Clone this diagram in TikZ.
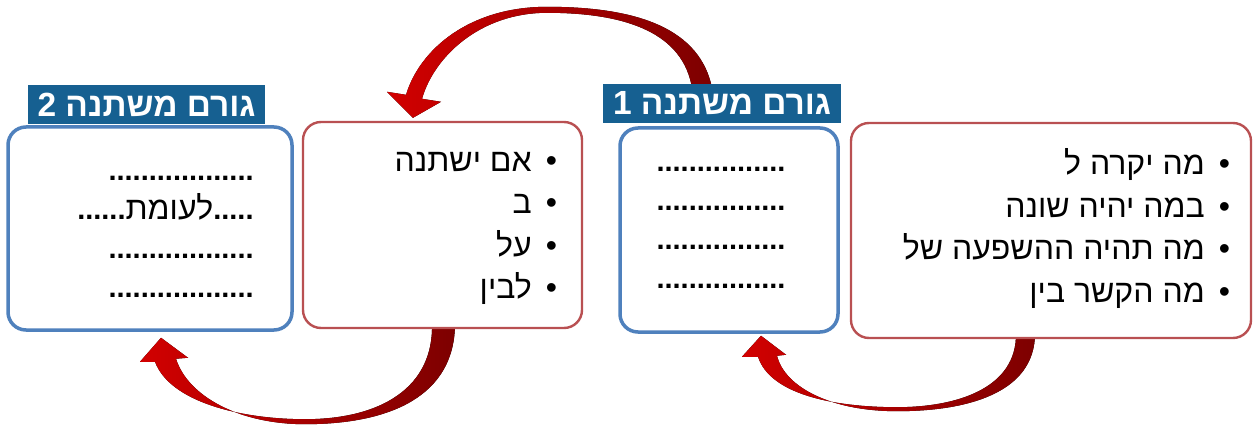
\documentclass[tikz,border=0pt]{standalone}
\usepackage{fontspec}
\setmainfont{Liberation Sans}
\newfontfamily\heb[Script=Hebrew]{Liberation Sans}
\TeXXeTstate=1
\usetikzlibrary{calc,backgrounds}
\definecolor{hdrblue}{RGB}{22,96,145}
\definecolor{boxblue}{RGB}{79,129,189}
\definecolor{boxred}{RGB}{185,80,82}
\definecolor{arrred}{RGB}{210,0,0}
\definecolor{arrdark}{RGB}{125,0,0}
\newcommand{\wrd}[1]{{\fontsize{32}{40}\selectfont\mdseries #1}}
\begin{document}
\begin{tikzpicture}[x=1pt,y=-1pt,
  bluebox/.style={draw=boxblue,line width=3.5pt,rounded corners=18pt,fill=white,inner sep=0pt},
  redbox/.style={draw=boxred,line width=2.4pt,rounded corners=18pt,fill=white,inner sep=0pt},
  header/.style={fill=hdrblue,text=white,font=\heb\bfseries\fontsize{33.5}{36}\selectfont,inner sep=0pt},
  bodytext/.style={font=\heb\fontsize{32}{42.5}\selectfont,align=right,inner sep=0pt},
  dottext/.style={font=\heb\bfseries\fontsize{29}{39}\selectfont,inner sep=0pt},
  arrowshape/.style={left color=arrred,right color=arrdark,draw=none}
]
\useasboundingbox (0,0) rectangle (1254,425);

% boxes
\node[bluebox,minimum width=284pt,minimum height=203pt] (box2) at (150,228.5) {};
\node[header,minimum width=237pt,minimum height=39pt] (h2) at (146.5,104.5) {\beginR גורם משתנה 2\endR};
\node[redbox,minimum width=279pt,minimum height=206pt] (mid) at (442.5,225) {};
\node[bluebox,minimum width=218pt,minimum height=204pt] (box1) at (729,230) {};
\node[header,minimum width=238pt,minimum height=39pt] (h1) at (722,103.5) {\beginR גורם משתנה 1\endR};
\node[redbox,minimum width=400pt,minimum height=215pt] (rbox) at (1051,230.5) {};

% texts
\node[bodytext,anchor=east] (midtxt) at ($(mid.east)+(-26,3.5)$)
  {\beginR •\hspace{14pt}אם ישתנה\endR\\
   \beginR •\hspace{14pt}ב\endR\\
   \beginR •\hspace{14pt}על\endR\\
   \beginR •\hspace{14pt}לבין\endR};
\node[bodytext,anchor=east] (rtxt) at ($(rbox.east)+(-22,-2)$)
  {\beginR •\hspace{14pt}מה יקרה ל\endR\\
   \beginR •\hspace{14pt}במה יהיה שונה\endR\\
   \beginR •\hspace{14pt}מה תהיה ההשפעה של\endR\\
   \beginR •\hspace{14pt}מה הקשר בין\endR};
\node[dottext,align=center] (b1txt) at ($(box1.center)+(-8,-2)$)
  {................\\................\\................\\................};
\node[dottext,align=right,anchor=east] (b2txt) at ($(box2.east)+(-40,8)$)
  {..................\\
   \beginR .....\wrd{לעומת}......\endR\\
   ..................\\
   ..................};

% arrow key points
\coordinate (To)  at ($(h1.north)+(-10,4)$);
\coordinate (Ti)  at ($(h1.north)+(-30,4)$);
\coordinate (Tpo) at ($(mid.north)+(104.5,-114)$);
\coordinate (Tpi) at ($(mid.north)+(104.5,-108)$);
\coordinate (Tso) at ($(mid.north)+(-36.5,-26)$);
\coordinate (Tsi) at ($(mid.north)+(-20.5,-22)$);
\coordinate (Tw1) at ($(mid.north)+(-55.5,-29)$);
\coordinate (Tw2) at ($(mid.north)+(-1.5,-19)$);
\coordinate (Ttip) at ($(mid.north)+(-29.5,-3)$);

\coordinate (Lo)  at ($(mid.south)+(12.5,-6)$);
\coordinate (Li)  at ($(mid.south)+(-10.5,-6)$);
\coordinate (Lbo) at ($(mid.south)+(-137.5,95)$);
\coordinate (Lbi) at ($(mid.south)+(-137.5,90)$);
\coordinate (Ltip) at ($(box2.south)+(11,6)$);
\coordinate (Lw1) at ($(box2.south)+(-10,30)$);
\coordinate (Lw2) at ($(box2.south)+(38,26)$);
\coordinate (Lso) at ($(box2.south)+(26,27)$);
\coordinate (Lsi) at ($(box2.south)+(5,30)$);

\coordinate (Ro)  at ($(rbox.south)+(-16,-6)$);
\coordinate (Ri)  at ($(rbox.south)+(-35,-6)$);
\coordinate (Rbo) at ($(rbox.south)+(-154,72)$);
\coordinate (Rbi) at ($(rbox.south)+(-154,68)$);
\coordinate (Rtip) at ($(box1.south)+(32,2)$);
\coordinate (Rw1) at ($(box1.south)+(13,23)$);
\coordinate (Rw2) at ($(box1.south)+(57,21)$);
\coordinate (Rso) at ($(box1.south)+(48,22)$);
\coordinate (Rsi) at ($(box1.south)+(29,23)$);

\begin{scope}[on background layer]
\fill[arrowshape] (To) .. controls +(-12,-58) and +(93,0) .. (Tpo)
  .. controls +(-77,0) and +(14,-46) .. (Tso) -- (Tw1) -- (Ttip) -- (Tw2) -- (Tsi)
  .. controls +(12,-42) and +(-67,0) .. (Tpi)
  .. controls +(83,0) and +(-9,-53) .. (Ti) -- cycle;
\fill[arrowshape] (Lo) .. controls +(0,73) and +(85,0) .. (Lbo)
  .. controls +(-65,0) and +(12,38) .. (Lso) -- (Lw2) -- (Ltip) -- (Lw1) -- (Lsi)
  .. controls +(15,40) and +(-65,0) .. (Lbi)
  .. controls +(75,0) and +(2,65) .. (Li) -- cycle;
\fill[arrowshape] (Ro) .. controls +(0,60) and +(70,0) .. (Rbo)
  .. controls +(-65,0) and +(8,32) .. (Rso) -- (Rw2) -- (Rtip) -- (Rw1) -- (Rsi)
  .. controls +(12,37) and +(-65,0) .. (Rbi)
  .. controls +(60,0) and +(1,55) .. (Ri) -- cycle;
\end{scope}
\end{tikzpicture}
\end{document}
